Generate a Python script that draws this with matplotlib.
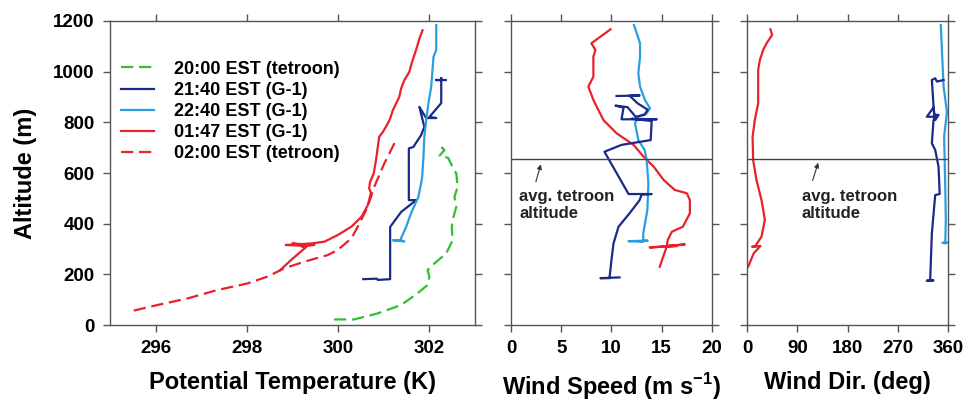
import numpy as np
import matplotlib
matplotlib.use('Agg')
import matplotlib.pyplot as plt

plt.rcParams['font.family'] = ['Liberation Sans', 'DejaVu Sans']
plt.rcParams['font.weight'] = 'bold'
plt.rcParams['mathtext.fontset'] = 'custom'
plt.rcParams['mathtext.rm'] = 'Liberation Sans:bold'
plt.rcParams['mathtext.bf'] = 'Liberation Sans:bold'

# --- potential temperature profiles (K vs m) ---
theta_2000 = [299.91, 300.35, 300.87, 301.38, 301.74, 301.96, 302.0, 301.96, 302.11, 302.37,
              302.51, 302.49, 302.53, 302.59, 302.55, 302.62, 302.59, 302.51, 302.41, 302.22,
              302.33, 302.28, 302.14]
z_2000 = [22, 22, 46, 79, 125, 158, 191, 217, 243, 283,
          335, 388, 427, 467, 506, 545, 598, 624, 660, 668,
          690, 700, 690]

theta_2140 = [300.55, 300.85, 300.87, 301.14, 301.14, 301.38, 301.71, 301.55, 301.55, 301.65,
              301.82, 301.89, 301.78, 301.93, 302.15, 302.0, 302.26, 302.26, 302.26, 302.26,
              302.15, 302.36]
z_2140 = [181, 183, 178, 181, 387, 446, 493, 493, 697, 703,
          750, 782, 861, 817, 817, 821, 876, 955, 975, 967,
          967, 967]

theta_2240 = [302.15, 302.15, 302.09, 302.04, 301.98, 301.93, 301.89, 301.87, 301.84, 301.76,
              301.6, 301.49, 301.38, 301.38, 301.2, 301.45, 301.35]
z_2240 = [1184, 1086, 1058, 940, 876, 809, 742, 663, 580, 506,
          442, 387, 343, 332, 335, 330, 335]

theta_0147 = [301.85, 301.78, 301.73, 301.67, 301.61, 301.56, 301.45, 301.38, 301.34, 301.27,
              301.2, 301.14, 301.07, 300.98, 300.9, 300.87, 300.83, 300.78, 300.7, 300.68,
              300.72, 300.65, 300.51, 300.29, 299.99, 299.7, 299.41, 299.1, 298.85, 299.3,
              299.0, 299.48, 299.2, 299.3, 298.97, 298.72]
z_0147 = [1163, 1130, 1098, 1065, 1032, 999, 966, 933, 900, 874,
          848, 815, 789, 762, 743, 703, 651, 598, 565, 539,
          522, 473, 427, 388, 355, 329, 322, 318, 316, 312,
          322, 316, 310, 308, 257, 215]

theta_0200 = [295.52, 296.04, 296.7, 297.35, 298.01, 298.45, 298.82, 299.26, 299.77, 299.99,
              300.29, 300.43, 300.65, 300.79, 301.01, 301.27]
z_0200 = [57, 79, 105, 138, 164, 191, 224, 250, 276, 296,
          342, 388, 467, 545, 637, 730]

# --- wind speed (m/s) ---
ws_2140 = [10.5, 12.8, 11.8, 12.6, 13.6, 13.3, 12.4, 11.6, 10.4, 11.2,
           11.0, 14.5, 12.0, 14.0, 13.9, 11.0, 9.3, 11.7, 14.0, 13.0,
           12.8, 11.8, 10.7, 10.2, 10.0, 9.8, 8.9, 10.8]
wsz_2140 = [904, 906, 905, 875, 850, 830, 822, 860, 866, 858,
            812, 812, 814, 805, 730, 711, 684, 517, 517, 515,
            493, 441, 388, 322, 257, 185, 185, 188]

ws_2240 = [12.24, 12.84, 12.84, 12.67, 12.84, 13.33, 13.83, 13.5, 12.67, 12.34,
           12.67, 13.3, 13.5, 13.67, 13.57, 13.16, 13.16, 11.7, 13.6, 12.8]
wsz_2240 = [1184, 1112, 1059, 993, 941, 888, 855, 836, 822, 796,
            730, 691, 651, 559, 454, 362, 329, 331, 333, 331]

ws_0147 = [9.9, 8.0, 8.4, 8.2, 8.2, 7.7, 8.2, 9.2, 10.5, 12.2,
           13.2, 14.2, 15.2, 16.3, 17.5, 17.8, 17.8, 17.1, 16.0, 15.6,
           15.5, 17.3, 13.8, 16.5, 15.5, 14.8]
wsz_0147 = [1167, 1112, 1086, 1059, 980, 941, 888, 809, 757, 711,
            664, 625, 572, 533, 520, 493, 441, 388, 368, 336,
            312, 318, 306, 312, 310, 230]

# --- wind direction (deg) ---
wd_2140 = [328, 322, 334, 328, 331, 337, 345, 343, 337, 331,
           334, 337, 322, 334, 337, 343, 335, 331, 337, 340, 352]
wdz_2140 = [175, 175, 176, 178, 362, 513, 517, 625, 691, 717,
            809, 822, 822, 859, 809, 829, 830, 967, 974, 961, 967]

wd_2240 = [347, 352, 358, 353, 355, 356, 355, 350, 358]
wdz_2240 = [1184, 941, 842, 743, 546, 415, 322, 325, 325]

wd_0147 = [42, 45, 35, 29, 23, 20, 20, 14, 10, 11,
           17, 26, 32, 26, 14, 9, 24, 12, 2]
wdz_0147 = [1167, 1145, 1112, 1086, 1046, 1007, 875, 809, 743, 651,
            572, 493, 415, 349, 309, 309, 312, 283, 230]

tetroon_alt = 655

green = '#2fbf2f'
navy = '#1a2a8a'
sky = '#2a9ee0'
red = '#e8222b'
dash = (0, (5.5, 2.6))
lw = 1.6

fig = plt.figure(figsize=(9.67, 4.03), dpi=100)
ax1 = fig.add_axes([0.1138, 0.1935, 0.3774, 0.7544])
ax2 = fig.add_axes([0.5284, 0.1935, 0.2079, 0.7544])
ax3 = fig.add_axes([0.7725, 0.1935, 0.2079, 0.7544])

ax1.plot(theta_2000, z_2000, color=green, lw=lw, ls=dash, label='20:00 EST (tetroon)')
ax1.plot(theta_2140, z_2140, color=navy, lw=lw, label='21:40 EST (G-1)')
ax1.plot(theta_2240, z_2240, color=sky, lw=lw, label='22:40 EST (G-1)')
ax1.plot(theta_0147, z_0147, color=red, lw=lw, label='01:47 EST (G-1)')
ax1.plot(theta_0200, z_0200, color=red, lw=lw, ls=dash, label='02:00 EST (tetroon)')

ax2.plot(ws_0147, wsz_0147, color=red, lw=lw)
ax2.plot(ws_2240, wsz_2240, color=sky, lw=lw)
ax2.plot(ws_2140, wsz_2140, color=navy, lw=lw)

ax3.plot(wd_0147, wdz_0147, color=red, lw=lw)
ax3.plot(wd_2240, wdz_2240, color=sky, lw=lw)
ax3.plot(wd_2140, wdz_2140, color=navy, lw=lw)

ax1.set_xlim(295, 303)
ax1.set_xticks([296, 298, 300, 302])
ax2.set_xlim(0, 20)
ax2.set_xticks([0, 5, 10, 15, 20])
ax3.set_xlim(0, 360)
ax3.set_xticks([0, 90, 180, 270, 360])

for ax in (ax1, ax2, ax3):
    ax.set_ylim(0, 1200)
    ax.set_yticks(np.arange(0, 1201, 200))
    ax.tick_params(direction='out', length=5, width=1, color='#555555',
                   top=True, right=True, labelsize=13.5, pad=6)
    for s in ax.spines.values():
        s.set_color('#555555')
        s.set_linewidth(1)
for ax in (ax2, ax3):
    ax.tick_params(labelleft=False)
    ax.axhline(tetroon_alt, color='#444444', lw=1)

ax1.set_xlabel('Potential Temperature (K)', fontsize=17, fontweight='bold', labelpad=10)
ax1.set_ylabel('Altitude (m)', fontsize=17, fontweight='bold', labelpad=12)
ax2.set_xlabel(r'Wind Speed (m s$^{\mathbf{-1}}$)', fontsize=17, fontweight='bold', labelpad=10)
ax3.set_xlabel('Wind Dir. (deg)', fontsize=17, fontweight='bold', labelpad=10)

ax1.legend(loc='upper left', bbox_to_anchor=(0.0, 0.905), frameon=False, fontsize=13,
           handlelength=1.85, handletextpad=1.1, labelspacing=0.23, borderaxespad=0.2)

arrow = dict(arrowstyle='-|>', color='#333333', lw=0.8, mutation_scale=7)
ax2.annotate('', xy=(3.05, 645), xytext=(2.4, 555), arrowprops=arrow)
ax2.text(0.8, 535, 'avg. tetroon\naltitude', fontsize=12, fontweight='bold',
         va='top', ha='left', color='#222222', linespacing=1.1)
ax3.annotate('', xy=(129, 651), xytext=(116, 560), arrowprops=arrow)
ax3.text(98, 535, 'avg. tetroon\naltitude', fontsize=12, fontweight='bold',
         va='top', ha='left', color='#222222', linespacing=1.1)

fig.savefig('out.png', dpi=100)
